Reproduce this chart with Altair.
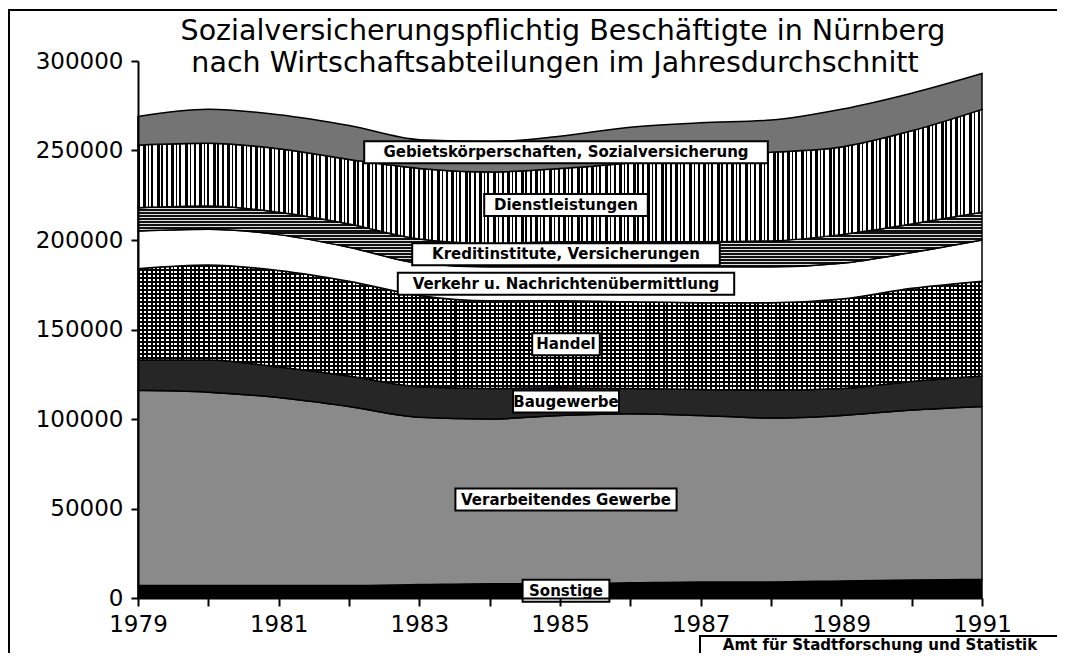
import altair as alt
import pandas as pd

# ---------------- data (employees, annual average) ----------------
years = list(range(1979, 1992))
categories = [
    "Sonstige",
    "Verarbeitendes Gewerbe",
    "Baugewerbe",
    "Handel",
    "Verkehr u. Nachrichtenübermittlung",
    "Kreditinstitute, Versicherungen",
    "Dienstleistungen",
    "Gebietskörperschaften, Sozialversicherung",
]
sonstige = [7000, 7000, 7000, 7000, 7500, 8000, 8000, 8500, 9000, 9000, 9500, 10000, 10500]
verarbeitend = [109000, 108000, 105000, 100000, 93500, 92000, 94000, 94500, 93000, 91500, 92500, 95000, 96500]
baugewerbe = [17000, 18000, 17000, 17000, 17000, 17000, 15500, 14000, 14500, 15500, 15000, 16000, 17000]
handel = [51000, 53000, 54000, 53000, 51000, 49000, 48500, 48500, 48500, 49000, 50000, 52000, 53000]
verkehr = [21000, 20000, 20000, 19000, 18000, 19000, 19000, 19500, 20000, 20000, 20000, 20000, 23000]
kredit = [13000, 13000, 12500, 13000, 13500, 13000, 14000, 14000, 14000, 14500, 16000, 16000, 15500]
dienst = [35000, 35000, 35500, 36000, 39500, 40000, 41000, 44000, 47000, 49500, 49000, 52000, 57500]
gebiets = [16000, 19000, 19000, 19000, 16000, 17000, 18000, 20000, 19500, 18000, 21000, 21000, 20000]
series = [sonstige, verarbeitend, baugewerbe, handel, verkehr, kredit, dienst, gebiets]
y_ticks = [0, 50000, 100000, 150000, 200000, 250000, 300000]
label_year = 1985
title_1 = "Sozialversicherungspflichtig Beschäftigte in Nürnberg"
title_2 = "nach Wirtschaftsabteilungen im Jahresdurchschnitt"
source = "Amt für Stadtforschung und Statistik"

rows = []
for i, (cat, vals) in enumerate(zip(categories, series)):
    for yr, v in zip(years, vals):
        rows.append({"year": yr, "cat": cat, "order": i, "value": v})
df = pd.DataFrame(rows)

W, H = 844, 537
FONT = "DejaVu Sans"


# ---------------- hatch-like fills via hard-stop gradients ----------------
def stripes(pattern, total_px, vertical_lines=True):
    stops = []
    pos = 0.0
    while pos < total_px:
        for color, w in pattern:
            a = min(pos / total_px, 1.0)
            b = min((pos + w) / total_px, 1.0)
            stops.append(alt.GradientStop(offset=round(a, 5), color=color))
            stops.append(alt.GradientStop(offset=round(b, 5), color=color))
            pos += w
            if pos >= total_px:
                break
    if vertical_lines:
        return alt.LinearGradient(gradient="linear", stops=stops, x1=0, x2=1, y1=0, y2=0)
    return alt.LinearGradient(gradient="linear", stops=stops, x1=0, x2=0, y1=0, y2=1)


K, Wh, T = "#000000", "#ffffff", "rgba(0,0,0,0)"
dienst_fill = stripes([(K, 2), (Wh, 3), (K, 3), (Wh, 2), (K, 1), (Wh, 2), (K, 2), (Wh, 4),
                       (K, 3), (Wh, 1.5), (K, 1.5), (Wh, 3)], W)
handel_v = stripes([(K, 2), (Wh, 2.5), (K, 2), (Wh, 2), (K, 1.5), (Wh, 3)], W)
handel_h = stripes([(K, 1.5), (T, 2.5)], 125, vertical_lines=False)
kredit_fill = stripes([("#111111", 2), ("#dddddd", 1)], 62, vertical_lines=False)

fills = {
    "Sonstige": "#000000",
    "Verarbeitendes Gewerbe": "#8a8a8a",
    "Baugewerbe": "#262626",
    "Handel": handel_v,
    "Verkehr u. Nachrichtenübermittlung": "#ffffff",
    "Kreditinstitute, Versicherungen": kredit_fill,
    "Dienstleistungen": dienst_fill,
    "Gebietskörperschaften, Sozialversicherung": "#747474",
}

x_enc = alt.X(
    "year:Q",
    scale=alt.Scale(domain=[1979, 1991], nice=False, zero=False),
    axis=alt.Axis(
        values=years, format="d",
        labelExpr="datum.value % 2 == 1 ? datum.label : ''",
        tickSize=8, tickWidth=2, tickColor="black",
        domainColor="black", domainWidth=2,
        labelFont=FONT, labelFontSize=23, labelColor="black", labelPadding=7,
        labelFlush=False, labelOverlap=False, grid=False, title=None, zindex=1,
    ),
)


def y_enc(field):
    return alt.Y(
        f"{field}:Q",
        scale=alt.Scale(domain=[0, 300000], nice=False),
        axis=alt.Axis(
            values=y_ticks, format="d",
            tickSize=7, tickWidth=2, tickColor="black",
            domainColor="black", domainWidth=2,
            labelFont=FONT, labelFontSize=23, labelColor="black", labelPadding=8,
            labelFlush=False, grid=False, title=None, zindex=1,
        ),
    )


base = alt.Chart(df).transform_stack(
    stack="value", groupby=["year"],
    sort=[alt.SortField("order", order="ascending")],
    as_=["y0", "y1"],
)

layers = []
# outer frame (no fill, so axes stay visible)
layers.append(
    alt.Chart(alt.Data(values=[{}])).mark_rect(
        fillOpacity=0, stroke="black", strokeWidth=2
    ).encode(x=alt.value(-129), x2=alt.value(921), y=alt.value(-51), y2=alt.value(620))
)

for cat in categories:
    layers.append(
        base.transform_filter(alt.datum.cat == cat)
        .mark_area(interpolate="monotone", fill=fills[cat], stroke="black", strokeWidth=1.5)
        .encode(x=x_enc, y=y_enc("y1"), y2="y0")
    )
    if cat == "Handel":
        layers.append(
            base.transform_filter(alt.datum.cat == cat)
            .mark_area(interpolate="monotone", fill=handel_h)
            .encode(x=x_enc, y=y_enc("y1"), y2="y0")
        )

lab = base.transform_filter(alt.datum.year == label_year).transform_calculate(
    mid="(datum.y0 + datum.y1) / 2",
    w="length(datum.cat) * 9.6 + 10",
)
layers.append(
    lab.mark_rect(
        fill="white", stroke="black", strokeWidth=2,
        xOffset=alt.expr("6 - datum.w / 2"), x2Offset=alt.expr("6 + datum.w / 2"),
        yOffset=-11, y2Offset=11,
    ).encode(x=x_enc, x2="year", y=y_enc("mid"), y2="mid")
)
layers.append(
    lab.mark_text(font=FONT, fontWeight="bold", fontSize=15, color="black", dx=6)
    .encode(x=x_enc, y=y_enc("mid"), text="cat:N")
)

# title lines
layers.append(
    alt.Chart(alt.Data(values=[{}])).mark_text(
        text=title_1, font=FONT, fontSize=28.5, color="black", align="center", baseline="alphabetic"
    ).encode(x=alt.value(425), y=alt.value(-21))
)
layers.append(
    alt.Chart(alt.Data(values=[{}])).mark_text(
        text=title_2, font=FONT, fontSize=28.5, color="black", align="center", baseline="alphabetic"
    ).encode(x=alt.value(417), y=alt.value(11))
)
# source box
layers.append(
    alt.Chart(alt.Data(values=[{}])).mark_rect(
        fill="white", stroke="black", strokeWidth=2
    ).encode(x=alt.value(562), x2=alt.value(923), y=alt.value(575), y2=alt.value(600))
)
layers.append(
    alt.Chart(alt.Data(values=[{}])).mark_text(
        text=source, font=FONT, fontWeight="bold", fontSize=15, color="black", align="center", baseline="middle"
    ).encode(x=alt.value(742), y=alt.value(584))
)

chart = alt.layer(*layers).properties(
    width=W, height=H,
    padding={"left": 130, "top": 53, "right": 75, "bottom": 55},
    autosize=alt.AutoSizeParams(type="none"),
    background="white",
).configure_view(stroke=None)

chart.save("out.html", embed_options={"renderer": "svg", "actions": False})
